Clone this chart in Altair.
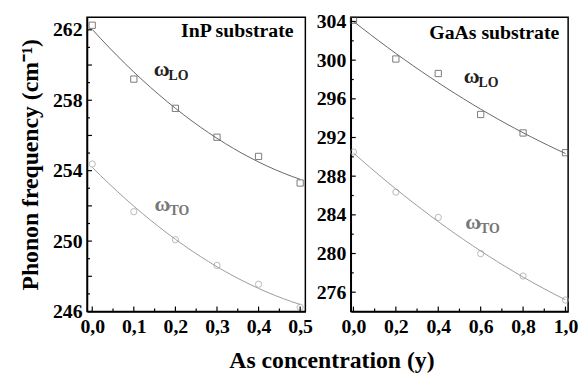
import altair as alt
import pandas as pd

# ---------------- data ----------------
inp_x = [0.0, 0.1, 0.2, 0.3, 0.4, 0.5]
inp_lo = [262.26, 259.2, 257.54, 255.9, 254.81, 253.3]
inp_to = [254.38, 251.67, 250.08, 248.62, 247.55, 246.24]

gaas_x = [0.0, 0.2, 0.4, 0.6, 0.8, 1.0]
gaas_lo = [304.13, 300.12, 298.62, 294.38, 292.47, 290.43]
gaas_to = [290.5, 286.35, 283.73, 279.99, 277.67, 275.19]

inp_xticks = [0.0, 0.1, 0.2, 0.3, 0.4, 0.5]
inp_xminor = [0.05, 0.15, 0.25, 0.35, 0.45]
inp_yticks = [246, 248, 250, 252, 254, 256, 258, 260, 262]
inp_yminor = [247, 249, 251, 253, 255, 257, 259, 261]

gaas_xticks = [0.0, 0.2, 0.4, 0.6, 0.8, 1.0]
gaas_xminor = [0.1, 0.3, 0.5, 0.7, 0.9]
gaas_yticks = [276, 280, 284, 288, 292, 296, 300, 304]
gaas_yminor = [278, 282, 286, 290, 294, 298, 302]

modes = ["LO", "TO"]
mode_colors_line = ["#666666", "#9a9a9a"]
mode_colors_pt = ["#444444", "#9a9a9a"]
mode_shapes = ["square", "circle"]
label_colors = ["#222222", "#777777"]

# label anchor positions (data coordinates)
inp_lbl_x = [0.148, 0.150]
inp_lbl_y = [259.4, 251.7]
gaas_lbl_x = [0.52, 0.527]
gaas_lbl_y = [297.6, 282.5]

FONT = "Liberation Serif"
AX = dict(labelFont=FONT, labelFontSize=20, labelFontWeight="bold", labelColor="black",
          titleFont=FONT, titleFontSize=24, titleFontWeight="bold", titleColor="black",
          titlePadding=10, tickSize=0, labelPadding=5, domainColor="black", domainWidth=1.5,
          grid=False, labelFlush=False, labelOverlap=False)


def panel(xs, lo, to, xdom, ydom, xticks, xminor, yticks, yminor,
          lbl_x, lbl_y, subtitle, sub_x, sub_y, w, h, ytitle):
    df = pd.DataFrame({
        "x": xs + xs,
        "y": lo + to,
        "mode": ["LO"] * len(xs) + ["TO"] * len(xs),
    })
    xsc = alt.Scale(domain=xdom, nice=False, zero=False)
    ysc = alt.Scale(domain=ydom, nice=False, zero=False)
    xaxis = alt.Axis(values=xticks, title=None,
                     labelExpr="replace(format(datum.value, '.1f'), '.', ',')", **AX)
    if ytitle:
        yaxis = alt.Axis(values=yticks, title=ytitle, **AX)
    else:
        yaxis = alt.Axis(values=yticks, title=None, **AX)

    X = alt.X("x:Q", scale=xsc, axis=xaxis)
    Y = alt.Y("y:Q", scale=ysc, axis=yaxis)

    base = alt.Chart(df)
    pts = base.mark_point(filled=False, size=40, strokeWidth=1).encode(
        x=X, y=Y,
        color=alt.Color("mode:N", scale=alt.Scale(domain=modes, range=mode_colors_pt), legend=None),
        shape=alt.Shape("mode:N", scale=alt.Scale(domain=modes, range=mode_shapes), legend=None),
    )
    lines = base.transform_regression(
        "x", "y", method="poly", order=2, groupby=["mode"],
        extent=[xs[0], xs[-1]]
    ).mark_line(strokeWidth=1).encode(
        x=alt.X("x:Q", scale=xsc, axis=xaxis),
        y=alt.Y("y:Q", scale=ysc, axis=yaxis),
        stroke=alt.Stroke("mode:N", scale=alt.Scale(domain=modes, range=mode_colors_line), legend=None),
    )

    # tick marks pointing inward
    xmaj = alt.Chart(pd.DataFrame({"v": xticks})).mark_rule(color="black", strokeWidth=1.2).encode(
        x=alt.X("v:Q", scale=xsc), y=alt.value(h), y2=alt.value(h - 5))
    xmin = alt.Chart(pd.DataFrame({"v": xminor})).mark_rule(color="black", strokeWidth=1.2).encode(
        x=alt.X("v:Q", scale=xsc), y=alt.value(h), y2=alt.value(h - 3))
    ymaj = alt.Chart(pd.DataFrame({"v": yticks})).mark_rule(color="black", strokeWidth=1.2).encode(
        y=alt.Y("v:Q", scale=ysc), x=alt.value(0), x2=alt.value(5))
    ymin = alt.Chart(pd.DataFrame({"v": yminor})).mark_rule(color="black", strokeWidth=1.2).encode(
        y=alt.Y("v:Q", scale=ysc), x=alt.value(0), x2=alt.value(3))

    lbl = pd.DataFrame({"x": lbl_x, "y": lbl_y, "mode": modes,
                        "w": ["ω", "ω"], "sub": modes})
    omega = alt.Chart(lbl).mark_text(font=FONT, fontSize=22, fontWeight="bold",
                                     align="left", baseline="alphabetic").encode(
        x=alt.X("x:Q", scale=xsc), y=alt.Y("y:Q", scale=ysc), text="w:N",
        fill=alt.Fill("mode:N", scale=alt.Scale(domain=modes, range=label_colors), legend=None))
    sub = alt.Chart(lbl).mark_text(font=FONT, fontSize=14, fontWeight="bold",
                                   align="left", baseline="alphabetic", dx=15, dy=4).encode(
        x=alt.X("x:Q", scale=xsc), y=alt.Y("y:Q", scale=ysc), text="sub:N",
        fill=alt.Fill("mode:N", scale=alt.Scale(domain=modes, range=label_colors), legend=None))

    ttl = alt.Chart(pd.DataFrame({"x": [sub_x], "y": [sub_y], "t": [subtitle]})).mark_text(
        font=FONT, fontSize=20, fontWeight="bold", align="right", baseline="alphabetic",
        color="black").encode(x=alt.X("x:Q", scale=xsc), y=alt.Y("y:Q", scale=ysc), text="t:N")

    return alt.layer(pts, lines, xmaj, xmin, ymaj, ymin, omega, sub, ttl).properties(
        width=w, height=h)


H = 298
left = panel(inp_x, inp_lo, inp_to, [-0.0125, 0.5125], [246, 262.72],
             inp_xticks, inp_xminor, inp_yticks, inp_yminor,
             inp_lbl_x, inp_lbl_y, "InP substrate", 0.484, 261.6, 221, H,
             "Phonon frequency (cm⁻¹)")
right = panel(gaas_x, gaas_lo, gaas_to, [-0.0125, 1.0125], [274, 304.45],
              gaas_xticks, gaas_xminor, gaas_yticks, gaas_yminor,
              gaas_lbl_x, gaas_lbl_y, "GaAs substrate", 0.971, 302.2, 220, H,
              None)

chart = alt.hconcat(left, right, spacing=46, bounds="flush").properties(
    title=alt.TitleParams("As concentration (y)", orient="bottom", anchor="middle",
                          font=FONT, fontSize=24, fontWeight="bold", color="black",
                          offset=12, dx=34),
    padding={"top": 0, "left": 10, "right": 0, "bottom": 0},
    background="white",
).configure_view(stroke="black", strokeWidth=1.5).configure_axis(**AX).configure_title(font=FONT)

chart.save("out.html", embed_options={"renderer": "svg", "actions": False})
